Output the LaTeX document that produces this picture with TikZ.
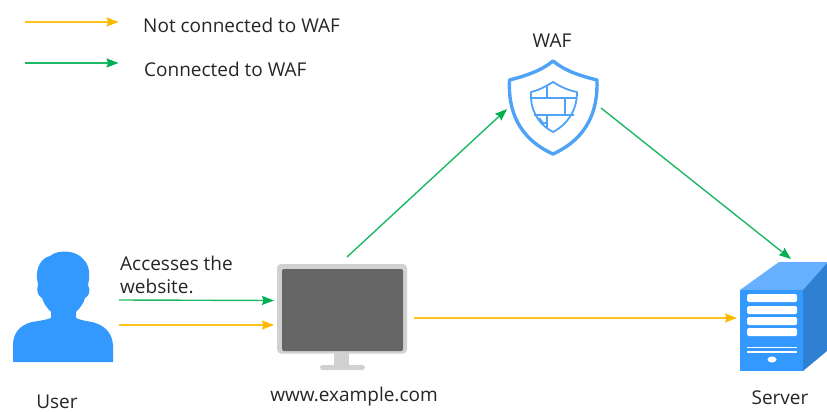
\documentclass[tikz,border=0pt]{standalone}
\usepackage{fontspec}
\setmainfont{Open Sans}
\usetikzlibrary{arrows.meta,calc}
\definecolor{wafgreen}{HTML}{1DB866}
\definecolor{wafgreenh}{HTML}{00B050}
\definecolor{wafyellow}{HTML}{FFC21A}
\definecolor{wafyellowh}{HTML}{FFB900}
\definecolor{iconblue}{HTML}{3399FF}
\definecolor{iconline}{HTML}{4FA3F7}
\definecolor{servertop}{HTML}{66B0FF}
\definecolor{serverside}{HTML}{2F7FD2}
\tikzset{
  lbl/.style={font=\fontsize{19}{22}\selectfont,text=black!85,inner sep=0pt},
  iconbox/.style={inner sep=0pt,outer sep=0pt,draw=none},
  greenline/.style={draw=wafgreen,line width=1.4pt,-{Stealth[length=12pt,width=9pt,inset=1.5pt,color=wafgreenh]}},
  yellowline/.style={draw=wafyellow,line width=1.4pt,-{Stealth[length=12pt,width=9pt,inset=1.5pt,color=wafyellowh]}},
}
\begin{document}
\begin{tikzpicture}[x=1pt,y=-1pt]
\useasboundingbox (0,0) rectangle (827,412);
% invisible anchors for the icons
\node[iconbox,minimum width=106pt,minimum height=110pt] (user) at (66,307) {};
\node[iconbox,minimum width=140pt,minimum height=113pt] (monitor) at (344,313.5) {};
\node[iconbox,minimum width=94pt,minimum height=95pt] (waf) at (554,107.5) {};
\node[iconbox,minimum width=90pt,minimum height=112pt] (server) at (782,315) {};
\node[iconbox] (legy1) at (24,22) {};
\node[iconbox] (legy2) at (119,22) {};
\node[iconbox] (legg1) at (24,63) {};
\node[iconbox] (legg2) at (119,63) {};
% user
\fill[iconblue] (13,362) -- (113,362) -- (113,345)
  .. controls (112,332) and (104,325) .. (92,322)
  .. controls (86,321) and (80,320) .. (76,318)
  -- (76,312) .. controls (80,308) and (84,303) .. (85,298)
  .. controls (89,296) and (91,291) .. (88,285)
  .. controls (90,276) and (90,266) .. (84,260)
  .. controls (77,250) and (58,249) .. (50,256)
  .. controls (41,258) and (36,268) .. (37,278)
  .. controls (37,281) and (38,283) .. (38,285)
  .. controls (36,291) and (38,296) .. (42,298)
  .. controls (44,304) and (47,308) .. (51,312)
  -- (51,318) .. controls (46,320) and (38,321) .. (32,322)
  .. controls (20,325) and (13,333) .. (13,345) -- cycle;
% monitor
\fill[black!18,rounded corners=4pt] (277,264) rectangle (407,353.5);
\fill[black!60,rounded corners=2pt] (282,269) rectangle (403,351);
\fill[black!18] (334,353) rectangle (349,366);
\fill[black!18,rounded corners=2.5pt] (320,365) rectangle (365,370);
% server
\fill[servertop] (740,290) -- (779,262) -- (827,262) -- (827,263) -- (803,290) -- cycle;
\fill[serverside] (803,290) -- (827,263) -- (827,351) -- (803,371) -- cycle;
\fill[iconblue] (740,290) rectangle (803,371);
\foreach \y in {294,306,317,328}
  \fill[white,rounded corners=1.5pt] (747,\y) rectangle (797,\y+8);
\fill[white] (747,346.5) rectangle (797,348);
\fill[white] (747,351) rectangle (797,352.5);
\fill[white] (772,359.5) ellipse [x radius=4.5pt,y radius=3pt];
% shield
\draw[iconline,line width=3.4pt,line join=round]
  (553,61) .. controls (541,71) and (525,76) .. (509.5,80)
  .. controls (508,110) and (518,138) .. (553,154)
  .. controls (588,138) and (598,110) .. (597,80)
  .. controls (581,76) and (565,71) .. (553,61) -- cycle;
\draw[iconline,line width=1.8pt,line join=round]
  (553,82) .. controls (548,85) and (540,90) .. (531,92)
  .. controls (530,110) and (538,124) .. (553,132)
  .. controls (568,124) and (577,110) .. (577,92)
  .. controls (566,90) and (558,85) .. (553,82) -- cycle
  (531,98) -- (577,98)
  (534,115) -- (574,115)
  (547,85.5) -- (547,98)
  (547,115) -- (547,128)
  (565,98) -- (565,115)
  (539,118) -- (543,123) -- (547,123);
% connectors
\draw[yellowline] (legy1) -- (legy2);
\draw[greenline] (legg1) -- (legg2);
\draw[greenline] ([yshift=7pt]user.east) -- ([yshift=13pt]monitor.west);
\draw[yellowline] ([yshift=-18pt]user.east) -- ([yshift=-11.5pt]monitor.west);
\draw[yellowline] ([yshift=-4.5pt]monitor.east) -- ([yshift=-3pt]server.west);
\draw[greenline] ([xshift=3pt]monitor.north) -- ([yshift=-1.5pt]waf.west);
\draw[greenline] ([yshift=-0.5pt]waf.east) -- ([xshift=9pt]server.north);
% text
\node[lbl,anchor=west] (t1) at (143,25) {Not connected to WAF};
\node[lbl,anchor=west] (t2) at (144,69) {Connected to WAF};
\node[lbl] (t3) at (552,41) {WAF};
\node[lbl,anchor=base west] (t4) at (120,270) {Accesses the};
\node[lbl,anchor=base west] (t5) at (120,293) {website.};
\node[lbl,anchor=base] (t6) at (57,408.5) {User};
\node[lbl] (t7) at (354,397) {www.example.com};
\node[lbl] (t8) at (780,398) {Server};
\end{tikzpicture}
\end{document}
